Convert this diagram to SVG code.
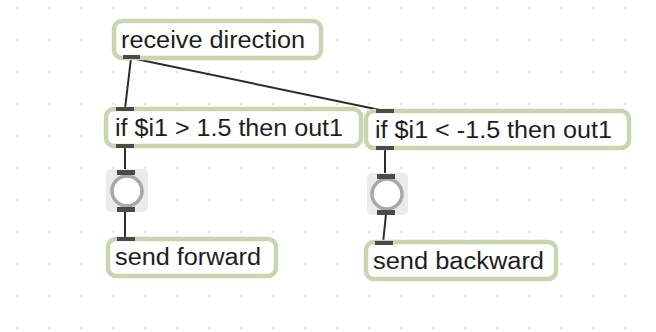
<svg xmlns="http://www.w3.org/2000/svg" width="656" height="332" viewBox="0 0 656 332">
<defs>
<pattern id="grid" x="17" y="8" width="32" height="32" patternUnits="userSpaceOnUse">
<rect x="-0.75" y="-0.75" width="1.5" height="1.5" fill="#cccccc"/>
<rect x="31.25" y="-0.75" width="1.5" height="1.5" fill="#cccccc"/>
<rect x="-0.75" y="31.25" width="1.5" height="1.5" fill="#cccccc"/>
<rect x="31.25" y="31.25" width="1.5" height="1.5" fill="#cccccc"/>
</pattern>
</defs>
<style>
.box{fill:#ffffff;stroke:#c8d5b0;stroke-width:4.5}
.lbl{font-family:"Liberation Sans",Arial,Helvetica,sans-serif;font-size:23px;fill:#1e1e1e}
.port{fill:#4a4a4a}
.btnbg{fill:#ebebeb}
.ring{fill:#ffffff;stroke:#a8a8a8;stroke-width:3.5}
.wire{stroke:#2b2b2b;stroke-width:2;fill:none}
</style>
<rect width="656" height="332" fill="#ffffff"/>
<rect width="656" height="332" fill="url(#grid)"/>
<g id="connectors">
<line class="wire" x1="131" y1="58" x2="125" y2="109"/>
<line class="wire" x1="131" y1="58" x2="385" y2="111"/>
<line class="wire" x1="125" y1="147" x2="125" y2="171"/>
<line class="wire" x1="125" y1="211" x2="125" y2="239"/>
<line class="wire" x1="385" y1="149" x2="385" y2="176"/>
<line class="wire" x1="386" y1="214" x2="383" y2="243"/>
</g>
<g id="receive-direction">
<rect class="box" x="114" y="21" width="207" height="37" rx="8"/>
<text class="lbl" x="121" y="48" textLength="184" lengthAdjust="spacingAndGlyphs">receive direction</text>
<rect class="port" x="123" y="55" width="17" height="4"/>
</g>
<g id="if-forward">
<rect class="box" x="106" y="109" width="255" height="37" rx="8"/>
<text class="lbl" x="115" y="136" textLength="228" lengthAdjust="spacingAndGlyphs">if $i1 &gt; 1.5 then out1</text>
<rect class="port" x="116" y="107" width="18" height="4"/>
<rect class="port" x="116" y="144" width="18" height="4"/>
</g>
<g id="if-backward">
<rect class="box" x="366" y="111" width="263" height="37" rx="8"/>
<text class="lbl" x="375" y="138" textLength="237" lengthAdjust="spacingAndGlyphs">if $i1 &lt; -1.5 then out1</text>
<rect class="port" x="376" y="109" width="18" height="4"/>
<rect class="port" x="376" y="146" width="18" height="4"/>
</g>
<g id="button-forward">
<rect class="btnbg" x="106" y="169" width="42" height="43" rx="5"/>
<circle class="ring" cx="127" cy="191" r="15"/>
<rect class="port" x="117" y="170" width="18" height="5"/>
<rect class="port" x="117" y="207" width="18" height="5"/>
</g>
<g id="button-backward">
<rect class="btnbg" x="367" y="173" width="41" height="42" rx="5"/>
<circle class="ring" cx="387" cy="194" r="15"/>
<rect class="port" x="377" y="174" width="18" height="5"/>
<rect class="port" x="377" y="210" width="18" height="5"/>
</g>
<g id="send-forward">
<rect class="box" x="108" y="239" width="168" height="37" rx="8"/>
<text class="lbl" x="115" y="265" textLength="146" lengthAdjust="spacingAndGlyphs">send forward</text>
<rect class="port" x="117" y="237" width="18" height="4"/>
</g>
<g id="send-backward">
<rect class="box" x="366" y="242" width="190" height="37" rx="8"/>
<text class="lbl" x="373" y="269" textLength="171" lengthAdjust="spacingAndGlyphs">send backward</text>
<rect class="port" x="375" y="241" width="18" height="4"/>
</g>
</svg>
